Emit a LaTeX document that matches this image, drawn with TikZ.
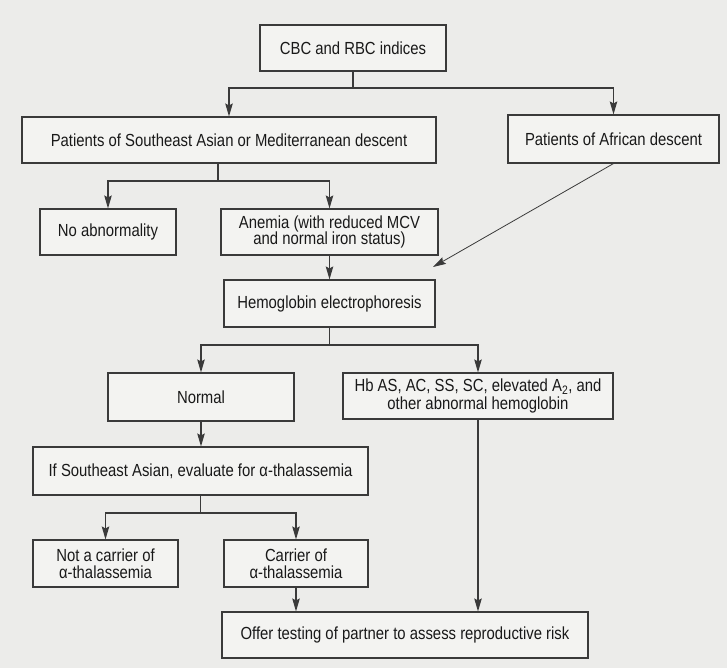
\documentclass[tikz,border=0pt]{standalone}
\usepackage{fontspec}
\setmainfont[FakeStretch=0.85]{Liberation Sans}
\usetikzlibrary{arrows.meta,shapes}

\definecolor{paper}{HTML}{ECECEA}
\definecolor{boxfill}{HTML}{F3F3F1}
\definecolor{ink}{HTML}{3A3A3A}

\tikzset{
  box/.style={draw=ink, fill=boxfill, line width=1.1pt, rectangle, align=center,
    inner sep=0pt, text=black!90, font=\fontsize{17.5}{16.5}\selectfont},
  link/.style={draw=ink, line width=1.2pt},
  arr/.style={link, -{Stealth[length=13pt,width=7.5pt,inset=2pt]}},
  thin arr/.style={draw=ink, line width=0.8pt, -{Stealth[length=13pt,width=7.5pt,inset=2pt]}}
}

\begin{document}
\begin{tikzpicture}[x=1pt,y=-1pt]
  \fill[paper] (0,0) rectangle (727,668);
  \useasboundingbox (0,0) rectangle (727,668);

  % boxes
  \node[box, minimum width=186pt, minimum height=46pt] (cbc) at (353,48) {CBC and RBC indices};
  \node[box, minimum width=414pt, minimum height=46pt] (se) at (229,140) {Patients of Southeast Asian or Mediterranean descent};
  \node[box, minimum width=211pt, minimum height=48pt] (afr) at (613.5,139) {Patients of African descent};
  \node[box, minimum width=136pt, minimum height=46pt] (noab) at (108,232) {No abnormality};
  \node[box, minimum width=217pt, minimum height=46pt] (anem) at (329.5,232) {Anemia (with reduced MCV\\and normal iron status)};
  \node[box, minimum width=211pt, minimum height=47pt] (hemo) at (329.5,303.5) {Hemoglobin electrophoresis};
  \node[box, minimum width=186pt, minimum height=48pt] (norm) at (201,397) {Normal};
  \node[box, minimum width=270pt, minimum height=46pt] (hbas) at (478,396) {Hb AS, AC, SS, SC, elevated A\textsubscript{2}, and\\[1.5pt]other abnormal hemoglobin};
  \node[box, minimum width=335pt, minimum height=48pt] (ifse) at (200.5,471) {If Southeast Asian, evaluate for α-thalassemia};
  \node[box, minimum width=145pt, minimum height=47pt] (notc) at (105.5,563.5) {Not a carrier of\\α-thalassemia};
  \node[box, minimum width=144pt, minimum height=47pt] (carr) at (296,563.5) {Carrier of\\α-thalassemia};
  \node[box, minimum width=366pt, minimum height=46pt] (offer) at (405,635) {Offer testing of partner to assess reproductive risk};

  % junctions
  \coordinate (j1) at (353,88);
  \coordinate (j2) at (218,181);
  \coordinate (j3) at (329.5,345);
  \coordinate (j4) at (200.5,513);
  \coordinate (afrend) at (433,267);

  % connectors
  \draw[link] (cbc.south) -- (j1);
  \draw[arr] (j1) -| (se.north);
  \draw[arr] (j1) -| (afr.north);
  \draw[link] (se.south -| j2) -- (j2);
  \draw[arr] (j2) -| (noab.north);
  \draw[arr] (j2) -| (anem.north);
  \draw[arr] (anem.south) -- (hemo.north);
  \draw[thin arr] (afr.south) -- (afrend);
  \draw[link] (hemo.south) -- (j3);
  \draw[arr] (j3) -| (norm.north);
  \draw[arr] (j3) -| (hbas.north);
  \draw[arr] (norm.south) -- (ifse.north -| norm.south);
  \draw[link] (ifse.south) -- (j4);
  \draw[arr] (j4) -| (notc.north);
  \draw[arr] (j4) -| (carr.north);
  \draw[arr] (carr.south) -- (carr.south |- offer.north);
  \draw[arr] (hbas.south) -- (hbas.south |- offer.north);
\end{tikzpicture}
\end{document}
